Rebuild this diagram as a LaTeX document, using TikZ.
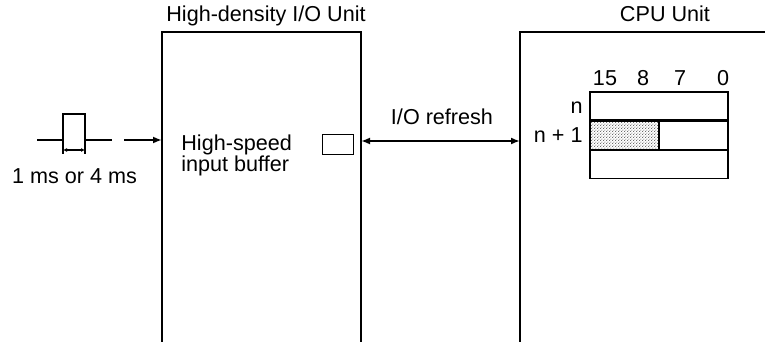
\documentclass[tikz,border=0pt]{standalone}
\usepackage{fontspec}
\setmainfont{Liberation Sans}
\usetikzlibrary{arrows.meta,patterns.meta,positioning}

\newcommand*{\picw}{765}
\newcommand*{\pich}{342}

\tikzdeclarepattern{
	name=finedots,
	type=uncolored,
	bounding box={(0,0) and (1.6pt,1.6pt)},
	tile size={(1.6pt,1.6pt)},
	code={\fill (0.4pt,0.4pt) circle (0.3pt); \fill (1.2pt,1.2pt) circle (0.3pt);}
}

\begin{document}
\begin{tikzpicture}
[
	x=0.5pt, y=-0.5pt,
	unitwall/.style={line width=1pt},
	lbl/.style={inner sep=0pt, font=\fontsize{10.8}{10.5}\selectfont},
	wordrow/.style={draw, line width=0.6pt, minimum width=69pt, minimum height=14pt, inner sep=0pt},
	>={Latex[length=4.5pt,width=3.5pt]}
]
	\useasboundingbox (0,0) rectangle (\picw,\pich);

	% units
	\draw[unitwall] (162,\pich) -- (162,32) -- (361,32) -- (361,\pich);
	\draw[unitwall] (520,\pich) -- (520,32) -- (\picw,32);
	\node[lbl, anchor=base] (hdtitle) at (266,22) {High-density I/O Unit};
	\node[lbl, anchor=base] (cputitle) at (665,22) {CPU Unit};
	\coordinate (hdin) at (162,140);
	\coordinate (hdout) at (361,141);
	\coordinate (cpuin) at (520,141);

	% input pulse
	\draw[line width=0.9pt] (37,140) -- (63,140) -- (63,114) -- (85,114) -- (85,140) -- (112,140);
	\coordinate (pulsegap) at (124,140);
	\draw[->, line width=0.9pt] (pulsegap) -- (hdin);
	\draw[line width=0.6pt] (63,141) -- (63,154) (85,141) -- (85,154);
	\draw[<->, line width=0.6pt, >={Latex[length=2pt,width=2pt]}] (63,150) -- (85,150);
	\node[lbl, anchor=base] (pulselbl) at (74.5,183) {1 ms or 4 ms};

	% buffer
	\node[lbl, anchor=west, align=left] (buftext) at (181,155) {High-speed\\input buffer};
	\node[draw, line width=0.5pt, minimum width=15.5pt, minimum height=10pt, inner sep=0pt] (buffer) at (337.5,144) {};

	% refresh
	\draw[<->, line width=0.9pt] (hdout) -- (cpuin);
	\node[lbl, anchor=base] (refresh) at (442,125) {I/O refresh};

	% words
	\node[wordrow] (wordn) at (659,106) {};
	\node[wordrow, below=0pt of wordn] (wordn1) {};
	\node[wordrow, below=0pt of wordn1] (wordn2) {};
	\node[wordrow, pattern=finedots, minimum width=34.5pt, anchor=west] (upper) at (wordn1.west) {};
	\foreach \bitx/\bit in {605/15,643/8,680/7,723/0}
		\node[lbl, anchor=base] (bit\bit) at (\bitx,86) {\bit};
	\node[lbl, anchor=base east] (lbln) at (583,113) {n};
	\node[lbl, anchor=base east] (lbln1) at (583,142) {n + 1};

\end{tikzpicture}
\end{document}
